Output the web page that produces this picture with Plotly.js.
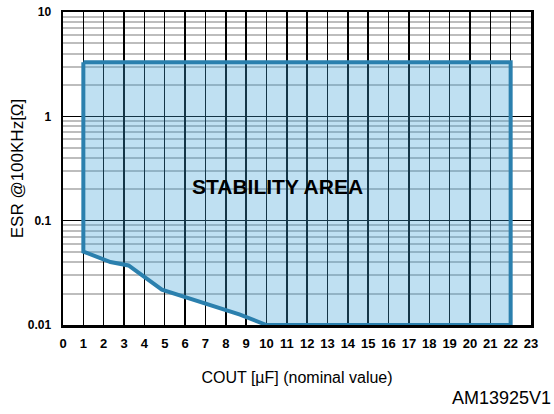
<!DOCTYPE html>
<html>
<head>
<meta charset="utf-8">
<script src="https://cdn.plot.ly/plotly-3.0.1.min.js"></script>
<style>html,body{margin:0;padding:0;background:#fff;}#chart{width:554px;height:414px;}</style>
</head>
<body>
<div id="chart"></div>
<script>
// Stability area boundary (COUT in µF, ESR in Ω)
const boundaryCout = [1, 22, 22, 10, 8.7, 4.86, 3.22, 2.33, 1, 1];
const boundaryEsr  = [3.3, 3.3, 0.01, 0.01, 0.0126, 0.0218, 0.0372, 0.0401, 0.0506, 3.3];

const xTickVals = [0,1,2,3,4,5,6,7,8,9,10,11,12,13,14,15,16,17,18,19,20,21,22,23];
const yTickVals = [0.01, 0.1, 1, 10];
const yTickText = ['0.01', '0.1', '1', '10'];
const yMinorVals = [0.02,0.03,0.04,0.05,0.06,0.07,0.08,0.09,
                    0.2,0.3,0.4,0.5,0.6,0.7,0.8,0.9,
                    2,3,4,5,6,7,8,9];

const areaLabel = 'STABILITY AREA';
const xTitle = 'COUT [µF] (nominal value)';
const yTitle = 'ESR @100KHz[Ω]';
const codeLabel = 'AM13925V1';

const FONT = 'Arial, "Liberation Sans", sans-serif';

const traces = [{
  type: 'scatter',
  mode: 'lines',
  x: boundaryCout,
  y: boundaryEsr,
  fill: 'toself',
  fillcolor: 'rgba(60,160,215,0.33)',
  line: {color: '#2b80ae', width: 4},
  hoverinfo: 'skip',
  showlegend: false
}];

const layout = {
  width: 554, height: 414,
  margin: {l: 63, r: 23, t: 12, b: 89},
  paper_bgcolor: '#fff', plot_bgcolor: '#fff',
  font: {family: FONT, color: '#000'},
  showlegend: false,
  xaxis: {
    range: [0, 23],
    tickmode: 'array', tickvals: xTickVals,
    ticks: '', ticklabelstandoff: 5,
    tickfont: {family: FONT, size: 13, color: '#000', weight: 'bold'},
    showgrid: true, gridcolor: '#000', gridwidth: 1.5,
    showline: true, linecolor: '#000', linewidth: 2.5, mirror: true,
    zeroline: false,
    title: {text: xTitle, font: {family: FONT, size: 16, color: '#000'}, standoff: 22}
  },
  yaxis: {
    type: 'log',
    range: [-2, 1],
    tickmode: 'array', tickvals: yTickVals, ticktext: yTickText,
    ticks: '', ticklabelstandoff: 7,
    tickfont: {family: FONT, size: 12, color: '#000', weight: 'bold'},
    showgrid: true, gridcolor: '#000', gridwidth: 1.5,
    minor: {tickmode: 'array', tickvals: yMinorVals, showgrid: true, gridcolor: '#bdbdbd', gridwidth: 2, ticks: ''},
    showline: true, linecolor: '#000', linewidth: 2.5, mirror: true,
    zeroline: false,
    title: {text: yTitle, font: {family: FONT, size: 17, color: '#000'}, standoff: 0}
  },
  annotations: [
    {text: areaLabel, x: 10.56, y: Math.log10(0.214), xref: 'x', yref: 'y',
     showarrow: false, xanchor: 'center', yanchor: 'middle',
     font: {family: FONT, size: 21, color: '#000', weight: 'bold'}},
    {text: codeLabel, x: 1.047, y: -0.233, xref: 'paper', yref: 'paper',
     showarrow: false, xanchor: 'right', yanchor: 'middle',
     font: {family: FONT, size: 18, color: '#000'}}
  ]
};

Plotly.newPlot('chart', traces, layout, {displayModeBar: false, staticPlot: true});
</script>
</body>
</html>
